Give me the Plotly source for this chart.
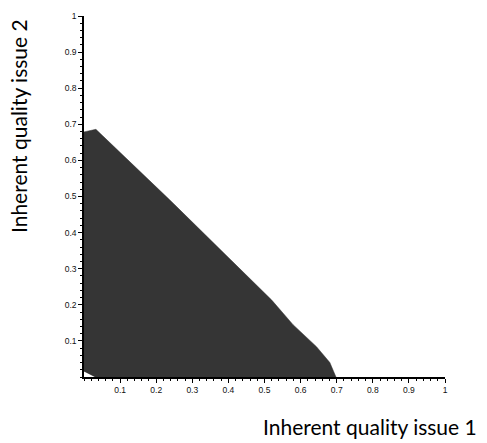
import plotly.graph_objects as go

# Boundary of the shaded region (issue 1, issue 2)
region_x = [0.0, 0.0, 0.033, 0.238, 0.52, 0.579, 0.644, 0.681, 0.698, 0.03]
region_y = [0.015, 0.679, 0.686, 0.49, 0.213, 0.145, 0.084, 0.04, 0.0, 0.0]

tick_vals = [0.1, 0.2, 0.3, 0.4, 0.5, 0.6, 0.7, 0.8, 0.9, 1.0]
tick_text = ["0.1", "0.2", "0.3", "0.4", "0.5", "0.6", "0.7", "0.8", "0.9", "1"]

fig = go.Figure()
fig.add_trace(go.Scatter(
    x=region_x, y=region_y, mode="lines", fill="toself",
    fillcolor="#353535", line=dict(width=0.5, color="#353535"),
    hoverinfo="skip", showlegend=False,
))

axis_common = dict(
    range=[0, 1], showgrid=False, zeroline=False,
    showline=True, linecolor="black", linewidth=1.5,
    ticks="outside", ticklen=4, tickwidth=1, tickcolor="black",
    tickvals=tick_vals, ticktext=tick_text,
    tickfont=dict(family="Liberation Sans", size=8.5, color="#111"),
    minor=dict(dtick=0.02, tick0=0, ticks="outside", ticklen=2.5, tickwidth=1, tickcolor="black"),
)
fig.update_xaxes(**axis_common)
fig.update_yaxes(**axis_common)

fig.update_layout(
    width=487, height=443,
    margin=dict(l=84, r=42, t=16, b=66),
    plot_bgcolor="white", paper_bgcolor="white",
    annotations=[
        dict(text="Inherent quality issue 2", xref="paper", yref="paper",
             x=-0.183, y=0.695, xanchor="center", yanchor="middle", textangle=-90,
             showarrow=False, font=dict(family="Lato", size=21, color="black")),
        dict(text="Inherent quality issue 1", xref="paper", yref="paper",
             x=0.793, y=-0.138, xanchor="center", yanchor="middle",
             showarrow=False, font=dict(family="Lato", size=21, color="black")),
    ],
)

fig.write_html("out.html")
